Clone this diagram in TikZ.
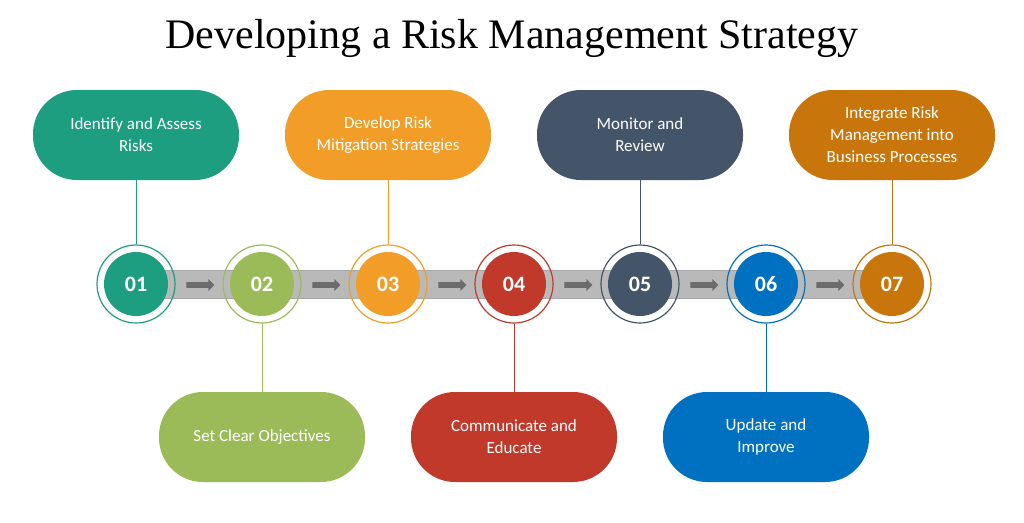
\documentclass[tikz,border=0pt]{standalone}
\usepackage{fontspec}
\setmainfont{Liberation Serif}
\newfontfamily\boxfont{Carlito}
\usetikzlibrary{shapes.arrows}
\definecolor{c1}{HTML}{1E9E80}
\definecolor{c2}{HTML}{9BBB59}
\definecolor{c3}{HTML}{F29D28}
\definecolor{c4}{HTML}{C0392B}
\definecolor{c5}{HTML}{445469}
\definecolor{c6}{HTML}{0070C0}
\definecolor{c7}{HTML}{C8760C}
\tikzset{
  x=1pt,y=-1pt,
  card/.style={rounded corners=44pt,minimum width=206pt,minimum height=90pt,text=white,align=center,font=\boxfont\fontsize{17}{22}\selectfont},
  disc/.style={circle,minimum size=64pt,inner sep=0pt,text=white,font=\boxfont\bfseries\fontsize{22}{22}\selectfont},
  ring/.style={circle,minimum size=78pt,inner sep=0pt,line width=1.2pt},
  tick/.style={single arrow,fill=gray!85!black,minimum height=28pt,minimum width=12pt,single arrow head extend=2pt,inner sep=1.5pt}
}
\begin{document}
\begin{tikzpicture}
\useasboundingbox[fill=white] (0,0) rectangle (1024,522);
\node[font=\fontsize{42}{46}\selectfont] (title) at (512,38) {Developing a Risk Management Strategy};
\fill[gray!55,draw=gray!70] (136,270) rectangle (892,298);
\foreach \i/\x/\c in {1/136/c1,2/262/c2,3/388/c3,4/514/c4,5/640/c5,6/766/c6,7/892/c7}{
  \node[ring,draw=\c] (r\i) at (\x,284) {};
  \node[disc,fill=\c] (d\i) at (\x,284) {0\i};
}
\foreach \x in {199,325,451,577,703,829}{
  \node[tick] (t\x) at (\x,285) {};
}
\node[card,fill=c1] (b1) at (136,135) {Identify and Assess\\Risks};
\node[card,fill=c3] (b3) at (388,135) {Develop Risk\\Mitigation Strategies};
\node[card,fill=c5] (b5) at (640,135) {Monitor and\\Review};
\node[card,fill=c7] (b7) at (892,135) {Integrate Risk\\Management into\\Business Processes};
\node[card,fill=c2] (b2) at (262,437) {Set Clear Objectives};
\node[card,fill=c4] (b4) at (514,437) {Communicate and\\Educate};
\node[card,fill=c6] (b6) at (766,437) {Update and\\Improve};
\foreach \i/\c in {1/c1,3/c3,5/c5,7/c7}{ \draw[\c,line width=1pt] (b\i.south) -- (r\i.north); }
\foreach \i/\c in {2/c2,4/c4,6/c6}{ \draw[\c,line width=1pt] (r\i.south) -- (b\i.north); }
\end{tikzpicture}
\end{document}
